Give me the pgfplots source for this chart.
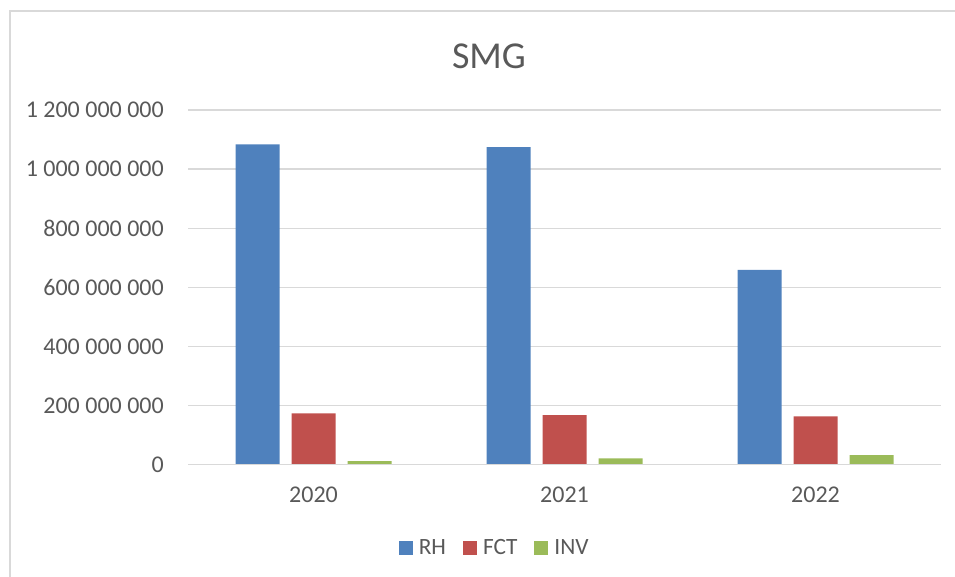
\documentclass[border=0pt]{standalone}
\usepackage{pgfplots}
\pgfplotsset{compat=1.18}
\usepackage{fontspec}
\setmainfont{Carlito}
\definecolor{rh}{HTML}{4F81BD}
\definecolor{fct}{HTML}{C0504D}
\definecolor{inv}{HTML}{9BBB59}
\definecolor{txt}{HTML}{595959}
\definecolor{grd}{HTML}{D9D9D9}
\begin{document}
\begin{tikzpicture}
\useasboundingbox (0,0) rectangle (716.25pt,432.75pt);
\draw[grd, line width=0.9pt] (7.5pt,0pt) -- (7.5pt,424.5pt) -- (716.25pt,424.5pt);
\begin{axis}[
  at={(141pt,84.375pt)}, anchor=south west,
  scale only axis, width=564.75pt, height=265.875pt,
  ybar=9pt, bar width=33pt,
  xmin=-0.5, xmax=2.5, ymin=0, ymax=1200000000,
  xtick={0,1,2}, xticklabels={2020,2021,2022},
  ytick={0,200000000,400000000,600000000,800000000,1000000000,1200000000},
  scaled y ticks=false,
  yticklabel style={/pgf/number format/fixed, /pgf/number format/precision=0,
    /pgf/number format/1000 sep={\ }, /pgf/number format/assume math mode=true,
    anchor=east, inner sep=0pt, xshift=-18pt, font=\fontsize{18}{21}\selectfont, text=txt},
  xticklabel style={anchor=base, inner sep=0pt, yshift=-28.5pt, font=\fontsize{18}{21}\selectfont, text=txt},
  major tick length=0pt,
  ymajorgrids, grid style={grd, line width=0.9pt},
  axis x line*=bottom, axis y line*=left,
  axis line style={draw=none},
  title={SMG},
  title style={at={(0.3997,1.13)}, anchor=center, font=\fontsize{28.5}{33}\selectfont, text=txt},
  legend columns=3,
  legend style={at={(0.406,-0.2355)}, anchor=center, draw=none, fill=none,
    font=\fontsize{17.5}{20}\selectfont, text=txt,
    nodes={inner xsep=0pt},
    /tikz/every even column/.append style={column sep=12.75pt}},
  legend image code/.code={\fill[#1] (0pt,-5.25pt) rectangle (10.5pt,5.25pt); \path (15pt,0pt);},
  legend cell align=left,
  clip=false,
]
\addplot[fill=rh, draw=none] coordinates {(0,1084000000) (1,1074000000) (2,659000000)};
\addplot[fill=fct, draw=none] coordinates {(0,173000000) (1,167000000) (2,163000000)};
\addplot[fill=inv, draw=none] coordinates {(0,11000000) (1,21000000) (2,32000000)};
\legend{RH,FCT,INV}
\draw[grd, line width=0.9pt] (axis cs:-0.5,0) -- (axis cs:2.5,0);
\end{axis}
\end{tikzpicture}
\end{document}
